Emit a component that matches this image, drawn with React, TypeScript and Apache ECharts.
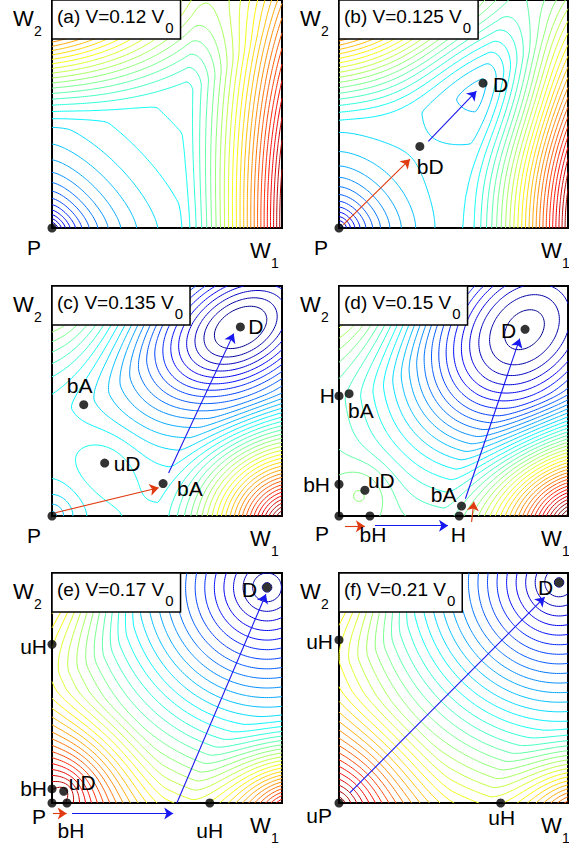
import React, { useEffect, useRef } from "react";
import * as echarts from "echarts";

// ---------------- data ----------------
const panelLetters = ["a", "b", "c", "d", "e", "f"];
const panelVoltages = ["0.12", "0.125", "0.135", "0.15", "0.17", "0.21"];

// critical points: [name, W1, W2]
const pointsA = [["P", 0, 0]];
const pointsB = [["P", 0, 0], ["bD", 0.353, 0.358], ["D", 0.629, 0.635]];
const pointsC = [["P", 0, 0], ["bA", 0.138, 0.484], ["uD", 0.229, 0.23], ["bA", 0.483, 0.141], ["D", 0.819, 0.822]];
const pointsD = [["P", 0, 0], ["H", 0, 0.522], ["bA", 0.044, 0.532], ["bH", 0, 0.138], ["uD", 0.113, 0.112], ["bH", 0.135, 0], ["H", 0.525, 0], ["bA", 0.535, 0.043], ["D", 0.8125, 0.8116]];
const pointsE = [["P", 0, 0], ["bH", 0, 0.061], ["uD", 0.051, 0.051], ["bH", 0.065, 0], ["uH", 0, 0.69], ["uH", 0.686, 0], ["D", 0.935, 0.9375]];
const pointsF = [["uP", 0, 0], ["uH", 0, 0.709], ["uH", 0.706, 0], ["D", 0.961, 0.959]];

// transition arrows: [W1 start, W2 start, W1 end, W2 end, kind]
const arrowsA: any[] = [];
const arrowsB = [[0.019, 0.015, 0.31, 0.302, "r"], [0.39, 0.38, 0.6, 0.6, "b"]];
const arrowsC = [[0.014, 0.014, 0.464, 0.123, "r"], [0.507, 0.187, 0.79, 0.793, "b"]];
const arrowsD = [[0.026, -0.045, 0.113, -0.045, "r"], [0.157, -0.042, 0.476, -0.042, "b"], [0.579, -0.026, 0.589, 0.062, "r"], [0.552, 0.075, 0.789, 0.771, "b"]];
const arrowsE = [[0.004, -0.046, 0.064, -0.046, "r"], [0.087, -0.046, 0.527, -0.046, "b"], [0.543, 0, 0.93, 0.908, "b"]];
const arrowsF = [[0.048, 0.045, 0.898, 0.895, "b"]];

// potential landscape, estimated from the contour picture:
// base level, then features [W1, W2, widthU, widthV, tiltDeg, amplitude, shape, kind, norm]
// kind 0: smooth well/bump, 1: cone, 3: compact power bump
const landscapeBase = [0.42, 0.42, 0.4, 0.5, 0, 0];
const landscapeA = [
  [0, 0, 0.25, 0.25, 0, -0.42, 0.8, 0, 1.4],
  [1.3, 0, 0.75, 2.2, 0, 1.22, 1.45, 3, 2],
  [-0.2, 1.13, 1.2, 0.72, 0, 0.9, 1.5, 3, 2],
];
const landscapeB = [
  [0, 0, 0.24, 0.24, 0, -0.4, 0.85, 0, 1.6],
  [1.3, 0, 0.75, 1.5, 0, 1.22, 1.45, 3, 2],
  [-0.2, 1.14, 1.2, 0.72, 0, 0.9, 1.5, 3, 2],
  [0.63, 0.635, 0.34, 0.34, 0, -0.1, 2, 0, 2],
];
const landscapeC = [
  [0.82, 0.82, 0.5, 0.32, 30, -0.42, 1.8, 0, 2],
  [0, 0, 0.12, 0.12, 0, -0.13, 1, 0, 2],
  [0.23, 0.23, 0.16, 0.16, 0, 0.04, 2, 0, 2],
  [1.05, -0.05, 0.6, 0.6, 0, 0.75, 1.5, 3, 2],
  [-0.05, 1.05, 0.6, 0.6, 0, 0.3, 1.5, 3, 2],
];
const landscapeD = [
  [0.81, 0.81, 0.62, 0.46, 45, -0.5, 2, 0, 2],
  [0.11, 0.11, 0.13, 0.13, 0, 0.05, 2, 0, 2],
  [1.05, -0.05, 0.6, 0.6, 0, 0.7, 1.5, 3, 2],
  [-0.05, 1.05, 0.55, 0.55, 0, 0.25, 1.5, 3, 2],
];
const landscapeE = [
  [0.935, 0.9375, 1, 1, 0, 0.6, 1, 1, 2],
  [0.05, 0.05, 0.45, 0.45, 0, 0.23, 1.5, 3, 2],
  [1.05, -0.05, 0.45, 0.45, 0, 0.42, 1.5, 3, 2],
  [-0.05, 1.05, 0.5, 0.5, 0, 0.25, 1.5, 3, 2],
];
const landscapeF = [
  [0.961, 0.959, 1, 1, 0, 0.6, 1, 1, 2],
  [0, 0, 0.5, 0.5, 0, 0.2, 1.5, 3, 2],
  [1.05, -0.05, 0.4, 0.4, 0, 0.3, 1.5, 3, 2],
  [-0.05, 1.05, 0.45, 0.45, 0, 0.22, 1.5, 3, 2],
];

const contourStep = 0.025;
const contourCount = 44;

// ---------------- styles / layout ----------------
const FONT = "Liberation Sans, Arial, Helvetica, sans-serif";
const GRID_RECTS = [
  [52, 0, 230, 228],
  [339, 0, 229, 228],
  [52, 286, 230, 230],
  [339, 286, 229, 230],
  [52, 573, 230, 230],
  [339, 573, 229, 230],
];
const labelPlaceA = [[-25, 19, "left"]];
const labelPlaceB = [[-25, 19, "left"], [-3, 20, "left"], [10, 1, "left"]];
const labelPlaceC = [[-25, 19, "left"], [-17, -19, "left"], [9, 0, "left"], [14, 5, "left"], [8, 0, "left"]];
const labelPlaceD = [[-24, 17, "left"], [-4, 0, "right"], [-1, 17, "left"], [-9, 0, "right"], [3, -10, "left"], [3, 18, "center"], [-1, 18, "center"], [-5, -12, "right"], [-9, 1, "right"]];
const labelPlaceE = [[-20, 13, "left"], [-5, 0, "right"], [5, -9, "left"], [4, 27, "center"], [-5, 2, "right"], [0, 27, "center"], [-10, 2, "right"]];
const labelPlaceF = [[-7, 12, "right"], [-6, 2, "right"], [1, 14, "center"], [-6, 5, "right"]];
const arrowColors: Record<string, string> = { r: "#e03a10", b: "#1818f0" };

const allPoints = [pointsA, pointsB, pointsC, pointsD, pointsE, pointsF];
const allArrows = [arrowsA, arrowsB, arrowsC, arrowsD, arrowsE, arrowsF];
const allLandscapes = [landscapeA, landscapeB, landscapeC, landscapeD, landscapeE, landscapeF];
const allLabelPlaces = [labelPlaceA, labelPlaceB, labelPlaceC, labelPlaceD, labelPlaceE, labelPlaceF];

// ---------------- helpers ----------------
function jet(t: number): string {
  const c = (v: number) => Math.max(0, Math.min(1, v));
  const r = c(1.5 - Math.abs(4 * t - 3));
  const g = c(1.5 - Math.abs(4 * t - 2));
  const b = c(1.5 - Math.abs(4 * t - 1));
  return `rgb(${Math.round(r * 255)},${Math.round(g * 255)},${Math.round(b * 255)})`;
}

function makeField(base: number, feats: number[][]) {
  const pre = feats.map((f) => ({
    x: f[0], y: f[1], su: f[2], sv: f[3],
    c: Math.cos((f[4] * Math.PI) / 180), s: Math.sin((f[4] * Math.PI) / 180),
    a: f[5], p: f[6], k: f[7], m: f[8] || 2,
  }));
  return (x: number, y: number) => {
    let v = base;
    for (const t of pre) {
      const dx = x - t.x, dy = y - t.y;
      const u = (dx * t.c + dy * t.s) / t.su;
      const w = (-dx * t.s + dy * t.c) / t.sv;
      const q = t.m === 2 ? u * u + w * w : Math.pow(Math.pow(Math.abs(u), t.m) + Math.pow(Math.abs(w), t.m), 2 / t.m);
      if (t.k === 1) v += t.a * Math.pow(q, t.p / 2);
      else if (t.k === 3) v += t.a * Math.pow(Math.max(0, 1 - Math.sqrt(q)), t.p);
      else v += t.a * Math.exp(-Math.pow(q, t.p / 2));
    }
    return v;
  };
}

function contours(vals: Float64Array, n: number, level: number): number[][][] {
  const N1 = n + 1;
  const OFF = N1 * N1;
  const adj = new Map<number, number[]>();
  const link = (a: number, b: number) => {
    if (!adj.has(a)) adj.set(a, []);
    if (!adj.has(b)) adj.set(b, []);
    adj.get(a)!.push(b);
    adj.get(b)!.push(a);
  };
  const L = level;
  for (let j = 0; j < n; j++) {
    for (let i = 0; i < n; i++) {
      const v0 = vals[j * N1 + i], v1 = vals[j * N1 + i + 1], v2 = vals[(j + 1) * N1 + i + 1], v3 = vals[(j + 1) * N1 + i];
      const b0 = v0 > L, b1 = v1 > L, b2 = v2 > L, b3 = v3 > L;
      const eB = j * N1 + i, eT = (j + 1) * N1 + i, eL = OFF + j * N1 + i, eR = OFF + j * N1 + i + 1;
      const list: number[] = [];
      if (b0 !== b1) list.push(eB);
      if (b1 !== b2) list.push(eR);
      if (b3 !== b2) list.push(eT);
      if (b0 !== b3) list.push(eL);
      if (list.length === 2) link(list[0], list[1]);
      else if (list.length === 4) {
        const cHigh = (v0 + v1 + v2 + v3) / 4 > L;
        if (b0) {
          if (cHigh) { link(eB, eR); link(eL, eT); } else { link(eL, eB); link(eR, eT); }
        } else {
          if (cHigh) { link(eL, eB); link(eR, eT); } else { link(eB, eR); link(eT, eL); }
        }
      }
    }
  }
  const pt = (e: number): number[] => {
    if (e < OFF) {
      const j = Math.floor(e / N1), i = e % N1;
      const a = vals[j * N1 + i], b = vals[j * N1 + i + 1];
      const t = (L - a) / (b - a);
      return [+((i + t) / n).toFixed(4), +(j / n).toFixed(4)];
    }
    const e2 = e - OFF;
    const j = Math.floor(e2 / N1), i = e2 % N1;
    const a = vals[j * N1 + i], b = vals[(j + 1) * N1 + i];
    const t = (L - a) / (b - a);
    return [+(i / n).toFixed(4), +((j + t) / n).toFixed(4)];
  };
  const visited = new Set<number>();
  const chains: number[][][] = [];
  const walk = (start: number) => {
    const chain = [start];
    visited.add(start);
    let cur = start;
    for (;;) {
      const nb = adj.get(cur) || [];
      let next = -1;
      for (const x of nb) if (!visited.has(x)) { next = x; break; }
      if (next < 0) {
        if (chain.length > 2 && nb.includes(start)) chain.push(start);
        break;
      }
      visited.add(next);
      chain.push(next);
      cur = next;
    }
    chains.push(chain.map(pt));
  };
  for (const [e, nb] of adj) if (nb.length === 1 && !visited.has(e)) walk(e);
  for (const [e] of adj) if (!visited.has(e)) walk(e);
  return chains;
}

function measure(text: string, size: number): number {
  const cv = document.createElement("canvas");
  const ctx = cv.getContext("2d")!;
  ctx.font = `${size}px ${FONT}`;
  return ctx.measureText(text).width;
}

export default function App() {
  const ref = useRef<HTMLDivElement>(null);
  useEffect(() => {
    if (!ref.current) return;
    const chart = echarts.init(ref.current, null, { renderer: "svg", width: 569, height: 847 });
    const grids: any[] = [], xAxes: any[] = [], yAxes: any[] = [], series: any[] = [];
    const n = 120;
    GRID_RECTS.forEach(([l, t, w, h], k) => {
      grids.push({ left: l, top: t, width: w, height: h, show: true, borderColor: "#000", borderWidth: 2, backgroundColor: "transparent" });
      xAxes.push({ type: "value", gridIndex: k, min: 0, max: 1, show: false });
      yAxes.push({ type: "value", gridIndex: k, min: 0, max: 1, show: false });
      const fn = makeField(landscapeBase[k], allLandscapes[k]);
      const N1 = n + 1;
      const vals = new Float64Array(N1 * N1);
      for (let j = 0; j <= n; j++) for (let i = 0; i <= n; i++) vals[j * N1 + i] = fn(i / n, j / n);
      const data: any[] = [];
      for (let m = 0; m < contourCount; m++) {
        const lev = contourStep * (m + 0.5);
        const color = jet(lev);
        for (const c of contours(vals, n, lev)) {
          if (c.length < 2) continue;
          data.push({ coords: c, lineStyle: { color } });
        }
      }
      series.push({
        type: "lines", coordinateSystem: "cartesian2d", xAxisIndex: k, yAxisIndex: k,
        polyline: true, silent: true, z: 1, clip: true,
        lineStyle: { width: 1, opacity: 1 }, data,
      });
      series.push({
        type: "lines", coordinateSystem: "cartesian2d", xAxisIndex: k, yAxisIndex: k,
        silent: true, z: 3, clip: false, symbol: ["none", "arrow"], symbolSize: 9,
        lineStyle: { width: 1.1, opacity: 1 },
        data: allArrows[k].map((a: any[]) => ({ coords: [[a[0], a[1]], [a[2], a[3]]], lineStyle: { color: arrowColors[a[4]] }, itemStyle: { color: arrowColors[a[4]] } })),
      });
      series.push({
        type: "scatter", xAxisIndex: k, yAxisIndex: k, z: 5, clip: false, silent: true,
        symbolSize: 9, itemStyle: { color: "#000" },
        data: allPoints[k].map((p: any[]) => [p[1], p[2]]),
      });
    });
    chart.setOption({ animation: false, grid: grids, xAxis: xAxes, yAxis: yAxes, series });

    const graphic: any[] = [];
    GRID_RECTS.forEach(([l, t, w, h], k) => {
      const col = k % 2;
      const base = `(${panelLetters[k]}) V=${panelVoltages[k]} V`;
      const bw = measure(base, 19);
      const sw = measure("0", 15);
      graphic.push({ type: "rect", z: 90, shape: { x: l, y: t, width: 5 + bw + sw + 8, height: 39 }, style: { fill: "#fff", stroke: "#000", lineWidth: 1.5 } });
      graphic.push({ type: "text", z: 95, x: l + 5, y: t + 16, style: { text: base, fontSize: 19, fontFamily: FONT, fill: "#000", align: "left", verticalAlign: "middle" } });
      graphic.push({ type: "text", z: 95, x: l + 5 + bw + 1, y: t + 27, style: { text: "0", fontSize: 15, fontFamily: FONT, fill: "#000", align: "left", verticalAlign: "middle" } });
      // axis names
      graphic.push({ type: "text", z: 95, x: l - 39, y: t + 18, style: { text: "W", fontSize: 22, fontFamily: FONT, fill: "#000", align: "left", verticalAlign: "middle" } });
      graphic.push({ type: "text", z: 95, x: l - 18, y: t + 31, style: { text: "2", fontSize: 14, fontFamily: FONT, fill: "#000", align: "left", verticalAlign: "middle" } });
      const wx = col === 0 ? l + w - 32 : l + w - 27;
      graphic.push({ type: "text", z: 95, x: wx, y: t + h + 22, style: { text: "W", fontSize: 22, fontFamily: FONT, fill: "#000", align: "left", verticalAlign: "middle" } });
      graphic.push({ type: "text", z: 95, x: wx + 21, y: t + h + 35, style: { text: "1", fontSize: 14, fontFamily: FONT, fill: "#000", align: "left", verticalAlign: "middle" } });
      // point labels
      allPoints[k].forEach((p: any[], i: number) => {
        const [px, py] = chart.convertToPixel({ gridIndex: k } as any, [p[1], p[2]]) as number[];
        const pl = allLabelPlaces[k][i] as any[];
        graphic.push({ type: "text", z: 95, x: px + pl[0], y: py + pl[1], style: { text: p[0], fontSize: 21, fontFamily: FONT, fill: "#000", align: pl[2], verticalAlign: "middle" } });
      });
    });
    chart.setOption({ graphic });
    return () => chart.dispose();
  }, []);
  return <div ref={ref} style={{ width: 569, height: 847, position: "absolute", left: 0, top: 0 }} />;
}
